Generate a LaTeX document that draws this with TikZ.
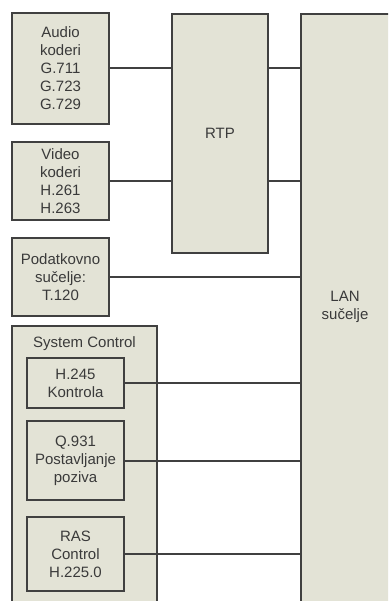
\documentclass[tikz,border=0pt]{standalone}
\usepackage{fontspec}
\setmainfont{Liberation Sans}
\usetikzlibrary{positioning}
\definecolor{boxc}{HTML}{E3E3D6}
\definecolor{linec}{HTML}{404040}
\definecolor{txtc}{HTML}{3A3A3A}

\begin{document}
\begin{tikzpicture}[x=1pt,y=-1pt,node distance=18pt,
    blok/.style={draw=linec, fill=boxc, line width=2pt, outer sep=0pt, inner sep=0pt,
                 minimum width=97pt, align=center, text=txtc, font=\fontsize{15}{18}\selectfont},
    veza/.style={draw=linec, line width=2pt}]
    \clip (0,0) rectangle (388,601);
    \fill[white] (0,0) rectangle (388,601);
    % lijevi stupac
    \node (audio) [blok, minimum height=111pt, anchor=north west] at (12,13) {Audio\\koderi\\G.711\\G.723\\G.729};
    \node (video) [blok, minimum height=78pt, below=18pt of audio] {Video\\koderi\\H.261\\H.263};
    \node (podaci) [blok, minimum height=78pt, below=18pt of video] {Podatkovno\\sučelje:\\T.120};
    % system control
    \node (sysctl) [blok, minimum width=145pt, minimum height=300pt, below right=10pt and 0pt of podaci.south west] {};
    \node (sctitle) [text=txtc, inner sep=0pt, font=\fontsize{15}{18}\selectfont, below=10pt of sysctl.north] {System Control};
    \node (h245) [blok, minimum height=50pt, below right=32pt and 15pt of sysctl.north west] {H.245\\Kontrola};
    \node (q931) [blok, minimum height=79pt, below=13pt of h245] {Q.931\\Postavljanje\\poziva};
    \node (ras) [blok, minimum height=74pt, below=17pt of q931] {RAS\\Control\\H.225.0};
    % RTP i LAN
    \node (rtp) [blok, minimum width=96pt, minimum height=239pt, anchor=north west] at (172,14) {RTP};
    \node (lan) [blok, minimum width=120pt, minimum height=620pt, anchor=north west] at (301,14) {};
    \node (lantekst) [text=txtc, align=center, inner sep=0pt, font=\fontsize{15}{18}\selectfont] at (345,307) {LAN\\sučelje};

    \draw [veza] (audio.east) -- (audio.east -| rtp.west);
    \draw [veza] (video.east) -- (video.east -| rtp.west);
    \draw [veza] (audio.east -| rtp.east) -- (audio.east -| lan.west);
    \draw [veza] (video.east -| rtp.east) -- (video.east -| lan.west);
    \draw [veza] (podaci.east) -- (podaci.east -| lan.west);
    \foreach \n in {h245,q931,ras}
        \draw [veza] (\n.east) -- (\n.east -| lan.west);
\end{tikzpicture}
\end{document}
